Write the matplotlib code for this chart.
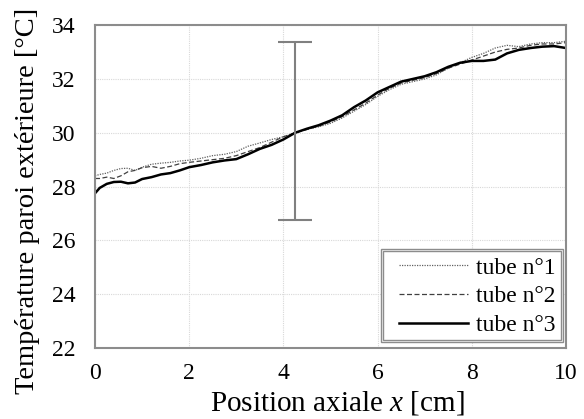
import matplotlib
matplotlib.use("Agg")
import matplotlib.pyplot as plt
from matplotlib.patches import Rectangle

x_cm = [0, 0.1, 0.25, 0.4, 0.55, 0.7, 0.85, 1.0, 1.2, 1.4, 1.6, 1.8, 2.0, 2.25, 2.5, 2.75,
        3.0, 3.25, 3.5, 3.75, 4.0, 4.25, 4.5, 4.75, 5.0, 5.25, 5.5, 5.75, 6.0, 6.25, 6.5,
        6.75, 7.0, 7.25, 7.5, 7.75, 8.0, 8.25, 8.5, 8.75, 9.0, 9.25, 9.5, 9.75, 10.0]
tube1 = [28.4, 28.45, 28.5, 28.6, 28.67, 28.68, 28.6, 28.72, 28.83, 28.87, 28.9, 28.95, 28.98,
         29.05, 29.15, 29.2, 29.3, 29.5, 29.62, 29.75, 29.85, 30.0, 30.13, 30.22, 30.35, 30.55,
         30.8, 31.05, 31.35, 31.6, 31.8, 31.9, 32.0, 32.15, 32.4, 32.6, 32.8, 32.95, 33.15,
         33.25, 33.2, 33.3, 33.35, 33.35, 33.4]
tube2 = [28.3, 28.3, 28.35, 28.3, 28.4, 28.55, 28.6, 28.7, 28.75, 28.68, 28.75, 28.85, 28.9,
         28.95, 29.0, 29.05, 29.15, 29.3, 29.45, 29.65, 29.85, 30.0, 30.12, 30.25, 30.4, 30.6,
         30.85, 31.1, 31.4, 31.65, 31.85, 31.95, 32.05, 32.2, 32.4, 32.55, 32.7, 32.85, 33.0,
         33.1, 33.15, 33.25, 33.3, 33.3, 33.35]
tube3 = [27.75, 27.95, 28.1, 28.17, 28.18, 28.12, 28.15, 28.28, 28.35, 28.45, 28.5, 28.6, 28.72,
         28.8, 28.9, 28.97, 29.02, 29.2, 29.4, 29.55, 29.75, 30.0, 30.15, 30.28, 30.45, 30.65,
         30.95, 31.2, 31.5, 31.7, 31.9, 32.0, 32.1, 32.25, 32.45, 32.6, 32.67, 32.67, 32.72,
         32.95, 33.08, 33.15, 33.2, 33.22, 33.15]
labels = ["tube n°1", "tube n°2", "tube n°3"]
err_x = 4.25
err_low = 26.75
err_high = 33.37
x_ticks = [0, 2, 4, 6, 8, 10]
y_ticks = [22, 24, 26, 28, 30, 32, 34]

plt.rcParams['font.family'] = ['Liberation Serif', 'DejaVu Serif']
plt.rcParams['mathtext.fontset'] = 'custom'
plt.rcParams['mathtext.rm'] = 'Liberation Serif'
plt.rcParams['mathtext.it'] = 'Liberation Serif:italic'

fig = plt.figure(figsize=(5.84, 4.19), dpi=100)
ax = fig.add_axes([0.1627, 0.1695, 0.8063, 0.7705])

ax.plot(x_cm, tube1, color='#606060', lw=0.9, ls=(0, (1, 1)), label=labels[0])
ax.plot(x_cm, tube2, color='#404040', lw=0.9, ls=(0, (4, 2)), label=labels[1])
ax.plot(x_cm, tube3, color='black', lw=1.8, ls='-', label=labels[2])

mid = (err_low + err_high) / 2
ax.errorbar([err_x], [mid], yerr=[[mid - err_low], [err_high - mid]], fmt='none',
            ecolor='#808080', elinewidth=1.5, capsize=12, capthick=1.5)

ax.set_xlim(0, 10)
ax.set_ylim(22, 34)
ax.set_xticks(x_ticks)
ax.set_yticks(y_ticks)
ax.grid(True, color='#d8d8d8', ls=(0, (1, 1)), lw=0.8)
ax.set_axisbelow(True)
ax.tick_params(length=0, labelsize=17)
ax.tick_params(axis='y', pad=14)
ax.tick_params(axis='x', pad=11)
for s in ax.spines.values():
    s.set_color('#8c8c8c')
    s.set_linewidth(1.5)

ax.set_xlabel("Position axiale $\\mathit{x}$ [cm]", fontsize=21)
ax.set_ylabel("Température paroi extérieure [°C]", fontsize=20.5)
ax.yaxis.set_label_coords(-0.1168, 0.455)
ax.xaxis.set_label_coords(0.515, -0.127)
ax.xaxis.label.set_va('top')

leg = ax.legend(loc='lower right', bbox_to_anchor=(0.993, 0.0156), fontsize=17,
                handlelength=2.9, handletextpad=0.35, labelspacing=0.3,
                frameon=False, borderpad=0.3, borderaxespad=0)

for (x0, y0, x1, y1) in [(0.607, 0.0186, 0.9936, 0.3065), (0.6115, 0.0248, 0.9894, 0.3003)]:
    ax.add_patch(Rectangle((x0, y0), x1 - x0, y1 - y0, transform=ax.transAxes,
                           facecolor='white' if x0 < 0.61 else 'none',
                           edgecolor='#8c8c8c', lw=1.0, zorder=4, clip_on=False))
leg.set_zorder(5)

fig.savefig("out.png", dpi=100)
